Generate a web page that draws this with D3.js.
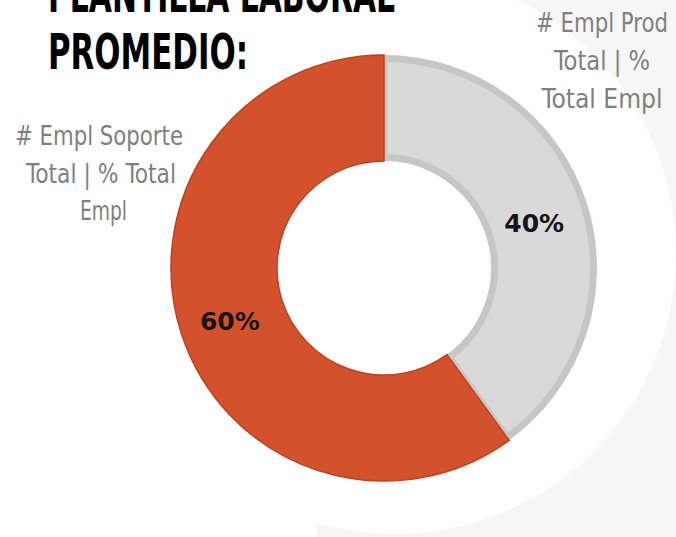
<!DOCTYPE html>
<html>
<head>
<meta charset="utf-8">
<script src="https://cdn.jsdelivr.net/npm/d3@7"></script>
<style>
  body { margin: 0; background: #fff; }
  svg { display: block; }
</style>
</head>
<body>
<svg id="chart" width="676" height="537"></svg>
<script>
// data
const categories = ["# Empl Prod Total | % Total Empl", "# Empl Soporte Total | % Total Empl"];
const values = [40, 60];
const sliceLabels = ["40%", "60%"];
const titleLines = ["PLANTILLA LABORAL", "PROMEDIO:"];
const prodLabel = ["# Empl Prod", "Total | %", "Total Empl"];
const soporteLabel = ["# Empl Soporte", "Total | % Total", "Empl"];

const width = 676;
const height = 537;
const cx = 384;
const cy = 268;

const svg = d3.select("#chart");

// faint background shape on the right
svg.append("rect")
    .attr("x", 317)
    .attr("y", 0)
    .attr("width", width - 317)
    .attr("height", height)
    .attr("fill", "#f6f6f6");

svg.append("circle")
    .attr("cx", 395)
    .attr("cy", 253)
    .attr("r", 281)
    .attr("fill", "#fff");

const pie = d3.pie().sort(null).value(d => d);
const arcs = pie(values);

const chart = svg.append("g")
    .attr("transform", `translate(${cx}, ${cy})`);

const grayArc = d3.arc().innerRadius(110.5).outerRadius(209.5);
const redArc = d3.arc().innerRadius(107).outerRadius(213);
const labelArc = d3.arc().innerRadius(160).outerRadius(160);

chart.append("path")
    .attr("d", grayArc(arcs[0]))
    .attr("fill", "#d9d9d9")
    .attr("stroke", "#c6c6c6")
    .attr("stroke-width", 7)
    .attr("stroke-linejoin", "round");

chart.append("path")
    .attr("d", redArc(arcs[1]))
    .attr("fill", "#d4512d")
    .attr("stroke", "#b9441f")
    .attr("stroke-width", 1.5);

chart.selectAll(".pct")
    .data(arcs)
    .enter()
    .append("text")
    .attr("class", "pct")
    .attr("x", d => labelArc.centroid(d)[0] - 2)
    .attr("y", d => labelArc.centroid(d)[1] + 4)
    .attr("dy", "0.36em")
    .attr("text-anchor", "middle")
    .attr("font-family", "DejaVu Sans")
    .attr("font-weight", "bold")
    .attr("font-size", 25)
    .attr("fill", "#151515")
    .text((d, i) => sliceLabels[i]);

// title
const condensed = "'DejaVu Sans Condensed', 'DejaVu Sans', sans-serif";
const titleBase = [12, 69];
const titleWidth = [347, 200];
titleLines.forEach((t, i) => {
    svg.append("text")
        .attr("x", 48)
        .attr("y", titleBase[i])
        .attr("font-family", condensed)
        .attr("font-weight", "bold")
        .attr("font-size", 50)
        .attr("textLength", titleWidth[i])
        .attr("lengthAdjust", "spacingAndGlyphs")
        .attr("fill", "#000")
        .text(t);
});

// category labels, squeezed to the narrow look of the original
const prodWidth = [132, 96, 121];
const soporteWidth = [168, 150, 47];

prodLabel.forEach((t, i) => {
    svg.append("text")
        .attr("x", 602 - prodWidth[i] / 2)
        .attr("y", 32 + i * 38)
        .attr("font-family", condensed)
        .attr("font-size", 27)
        .attr("textLength", prodWidth[i])
        .attr("lengthAdjust", "spacingAndGlyphs")
        .attr("fill", "#7f7f7f")
        .text(t);
});

soporteLabel.forEach((t, i) => {
    svg.append("text")
        .attr("x", [15, 26, 80][i])
        .attr("y", 145 + i * 37.5)
        .attr("font-family", condensed)
        .attr("font-size", 27)
        .attr("textLength", soporteWidth[i])
        .attr("lengthAdjust", "spacingAndGlyphs")
        .attr("fill", "#7f7f7f")
        .text(t);
});
</script>
</body>
</html>
